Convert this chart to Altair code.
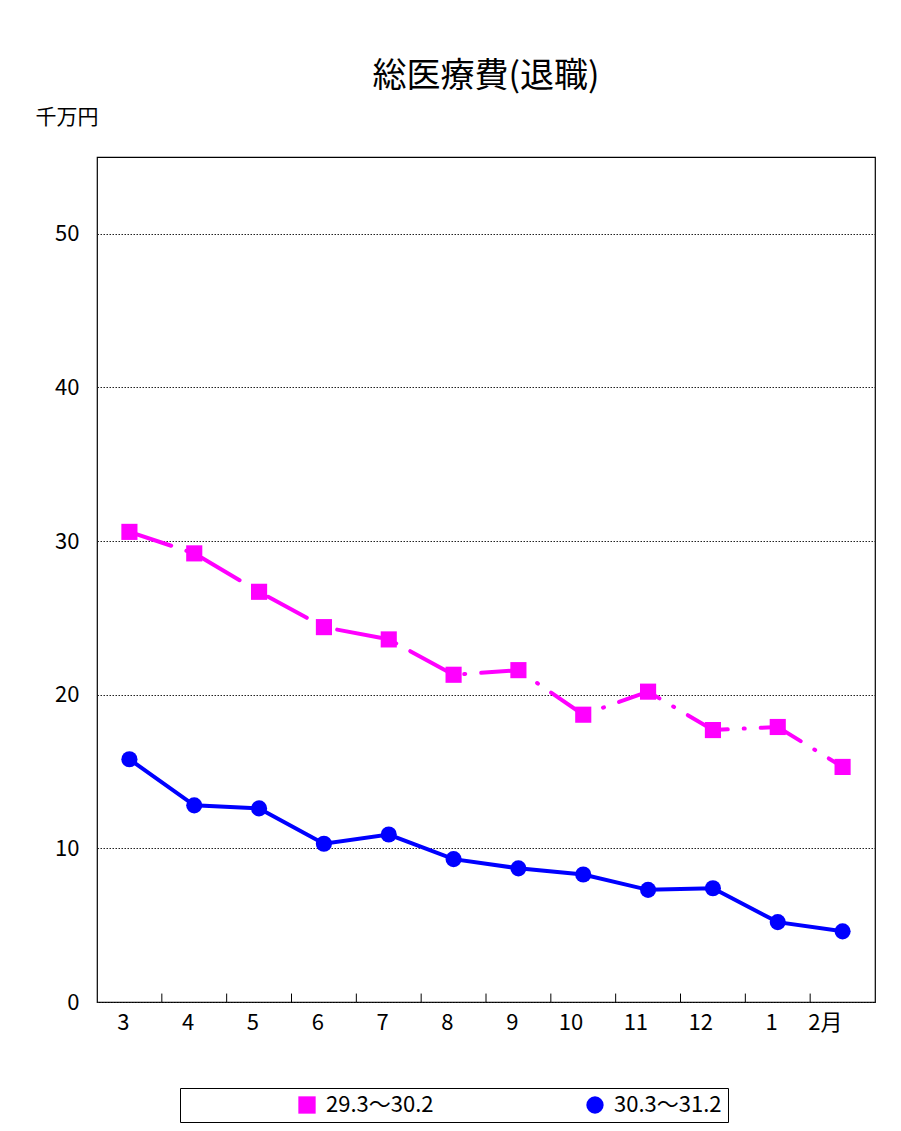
import altair as alt
import pandas as pd

months = ["3", "4", "5", "6", "7", "8", "9", "10", "11", "12", "1", "2月"]
prev_year = [30.6, 29.2, 26.7, 24.4, 23.6, 21.3, 21.6, 18.7, 20.2, 17.7, 17.9, 15.3]
this_year = [15.8, 12.8, 12.6, 10.3, 10.9, 9.3, 8.7, 8.3, 7.3, 7.4, 5.2, 4.6]
series = ["29.3～30.2", "30.3～31.2"]

FONT = "Noto Sans CJK JP"

df = pd.concat([
    pd.DataFrame({"month": months, "value": prev_year, "series": series[0]}),
    pd.DataFrame({"month": months, "value": this_year, "series": series[1]}),
])
ticks_df = pd.DataFrame({"month": months[1:]})

x = alt.X("month:N", sort=months, title=None,
          scale=alt.Scale(paddingInner=0, paddingOuter=0),
          axis=alt.Axis(labelAngle=0, labelFontSize=22, labelPadding=20,
                        ticks=False, domain=False, labelFont=FONT, labelColor="black"))
y = alt.Y("value:Q", scale=alt.Scale(domain=[0, 55], nice=False),
          axis=alt.Axis(values=[0, 10, 20, 30, 40, 50], title="千万円",
                        titleAngle=0, titleAlign="left", titleBaseline="middle",
                        titleX=-62, titleY=-40, titleFontSize=21, titleFontWeight="normal",
                        titleFont=FONT, labelFont=FONT, labelFontSize=22, labelPadding=18,
                        ticks=False, domain=False, labelColor="black", titleColor="black",
                        grid=True, gridColor="#222222", gridDash=[1.5, 1.5], gridWidth=1))

color = alt.Color("series:N", scale=alt.Scale(domain=series, range=["#ff00ff", "#0000ff"]),
                  legend=alt.Legend(title=None, orient="none", legendX=83, legendY=931,
                                    direction="horizontal", labelFontSize=22, labelFont=FONT,
                                    symbolSize=300, columnPadding=40, padding=6,
                                    symbolOffset=110, labelOffset=8,
                                    strokeColor="black", labelLimit=300, symbolStrokeWidth=0))
shape = alt.Shape("series:N", scale=alt.Scale(domain=series, range=["square", "circle"]), legend=None)

pink = alt.Chart(df[df.series == series[0]]).mark_line(
    strokeWidth=4, strokeDash=[44, 16, 1, 16], strokeCap="round", color="#ff00ff"
).encode(x=x, y=y)
blue = alt.Chart(df[df.series == series[1]]).mark_line(
    strokeWidth=4, color="#0000ff"
).encode(x=x, y=y)
points = alt.Chart(df).mark_point(filled=True, opacity=1, size=260).encode(
    x=x, y=y, color=color, shape=shape
)
tick_marks = alt.Chart(ticks_df).mark_rule(color="black", strokeWidth=1).encode(
    x=alt.X("month:N", sort=months, bandPosition=0),
    y=alt.datum(0), y2=alt.datum(0.55)
)

chart = (tick_marks + pink + blue + points).properties(
    width=778, height=845,
    padding={"left": 89, "top": 149, "right": 16, "bottom": 125},
    autosize=alt.AutoSizeParams(type="none"),
    title=alt.Title("総医療費(退職)", font=FONT, fontSize=34, fontWeight="normal",
                    color="black", offset=12),
).configure_view(stroke="black", strokeWidth=1.2)

chart.save("out.html", embed_options={"renderer": "svg", "actions": False})
